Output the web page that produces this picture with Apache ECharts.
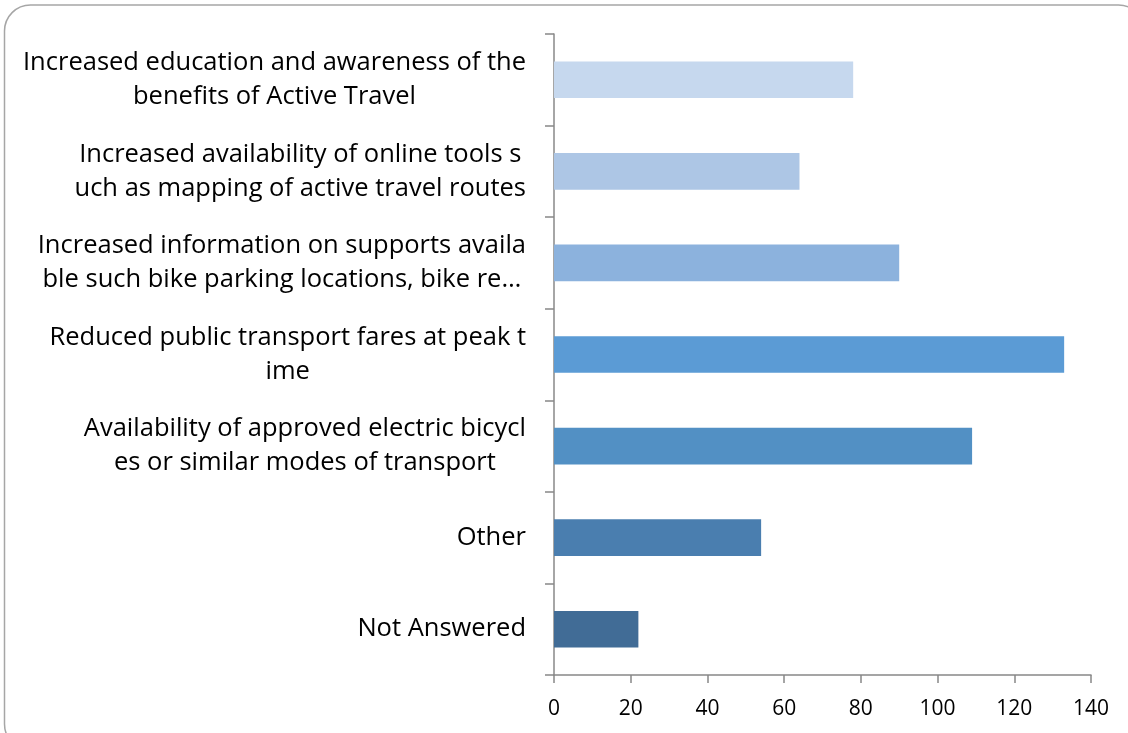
<!DOCTYPE html>
<html>
<head>
<meta charset="utf-8">
<script src="https://cdn.jsdelivr.net/npm/echarts@6/dist/echarts.min.js"></script>
<style>
  html, body { margin: 0; padding: 0; background: #fff; }
  #chart { width: 1128px; height: 733px; }
</style>
</head>
<body>
<div id="chart"></div>
<script>
// Survey options, listed bottom-to-top as drawn on the category axis
var categories = [
  'Not Answered',
  'Other',
  'Availability of approved electric bicycl\nes or similar modes of transport',
  'Reduced public transport fares at peak t\nime',
  'Increased information on supports availa\nble such bike parking locations, bike re…',
  'Increased availability of online tools s\nuch as mapping of active travel routes',
  'Increased education and awareness of the\nbenefits of Active Travel'
];
var responses = [22, 54, 109, 133, 90, 64, 78];
var barColors = ['#416C96', '#4A7EAF', '#5290C4', '#5B9BD5', '#8CB2DD', '#ADC6E5', '#C6D8EE'];
var xTicks = [0, 20, 40, 60, 80, 100, 120, 140];

var FONT = '"Open Sans"';
var chart = echarts.init(document.getElementById('chart'));

chart.setOption({
  animation: false,
  graphic: [{
    type: 'rect',
    shape: { x: 4.5, y: 5, width: 1140, height: 745, r: 26 },
    style: { fill: 'none', stroke: '#A6A6A6', lineWidth: 1.5 },
    silent: true
  }],
  grid: { left: 554, right: 37, top: 34, bottom: 58 },
  xAxis: {
    type: 'value',
    min: xTicks[0],
    max: xTicks[xTicks.length - 1],
    interval: xTicks[1] - xTicks[0],
    axisLine: { show: true, lineStyle: { color: '#888', width: 1.5 } },
    axisTick: { show: true, inside: false, length: 8, lineStyle: { color: '#888', width: 1.5 } },
    splitLine: { show: false },
    axisLabel: { color: '#000', fontFamily: FONT, fontSize: 21, margin: 24 }
  },
  yAxis: {
    type: 'category',
    data: categories,
    axisLine: { show: true, lineStyle: { color: '#888', width: 1.5 } },
    axisTick: { show: true, length: 9, lineStyle: { color: '#888', width: 1.5 } },
    axisLabel: {
      margin: 28,
      align: 'right',
      formatter: function (v) {
        return v.split('\n').map(function (s) { return '{c|' + s + '}'; }).join('\n');
      },
      rich: {
        c: { color: '#000', fontFamily: FONT, fontSize: 25.5, lineHeight: 34, align: 'center' }
      }
    }
  },
  series: [{
    type: 'bar',
    data: responses.map(function (v, i) {
      return { value: v, itemStyle: { color: barColors[i] } };
    }),
    barWidth: '40%'
  }]
});
</script>
</body>
</html>
